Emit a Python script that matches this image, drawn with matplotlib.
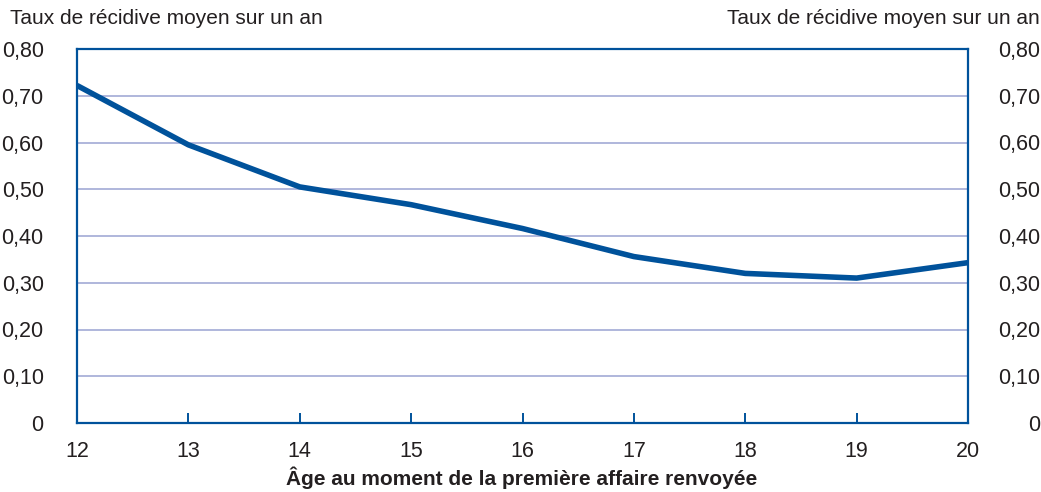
import matplotlib
matplotlib.use("Agg")
import matplotlib.pyplot as plt
from matplotlib import font_manager

names = {f.name for f in font_manager.fontManager.ttflist}
fam = "Liberation Sans Narrow" if "Liberation Sans Narrow" in names else "Liberation Sans"
plt.rcParams['font.family'] = [fam, 'DejaVu Sans']

ages = [12, 13, 14, 15, 16, 17, 18, 19, 20]
taux = [0.722, 0.595, 0.505, 0.467, 0.416, 0.356, 0.320, 0.310, 0.343]
y_ticks = [0, 0.1, 0.2, 0.3, 0.4, 0.5, 0.6, 0.7, 0.8]
y_labels = ["0", "0,10", "0,20", "0,30", "0,40", "0,50", "0,60", "0,70", "0,80"]
y_title = "Taux de récidive moyen sur un an"
x_title = "Âge au moment de la première affaire renvoyée"

BLUE = "#00529B"
GRID = "#A9B1D9"
TXT = "#231F20"

fig = plt.figure(figsize=(10.41, 4.92), dpi=100)
ax = fig.add_axes([77/1041, 1 - 423/492, (968-77)/1041, (423-49)/492])
ax.plot(ages, taux, color=BLUE, lw=4.0, solid_capstyle='butt', solid_joinstyle='round', zorder=3)
ax.set_xlim(12, 20)
ax.set_ylim(0, 0.8)
ax.set_xticks(ages)
ax.set_xticklabels([str(a) for a in ages])
ax.set_yticks(y_ticks)
ax.set_yticklabels(y_labels)
for s in ax.spines.values():
    s.set_color(BLUE)
    s.set_linewidth(1.6)
ax.grid(axis='y', color=GRID, lw=1.3, zorder=1)
ax.set_axisbelow(True)
ax.tick_params(axis='x', direction='in', length=7, width=1.4, color=BLUE, pad=13,
               labelsize=15.5, labelcolor=TXT)
ax.tick_params(axis='y', length=0, pad=24, labelsize=15.5, labelcolor=TXT)

ax2 = ax.twinx()
ax2.set_ylim(0, 0.8)
ax2.set_yticks(y_ticks)
ax2.set_yticklabels(y_labels)
ax2.tick_params(axis='y', length=0, pad=52, labelsize=15.5, labelcolor=TXT)
for lab in ax2.get_yticklabels():
    lab.set_ha('right')
for s in ax2.spines.values():
    s.set_visible(False)

fig.text(10/1041, 1 - 18/492, y_title, ha='left', va='center', fontsize=15, color=TXT)
fig.text(1040/1041, 1 - 18/492, y_title, ha='right', va='center', fontsize=15, color=TXT)
fig.text(522/1041, 1 - 478/492, x_title, ha='center', va='center', fontsize=15,
         fontweight='bold', color=TXT)

fig.savefig("out.png", dpi=100)
